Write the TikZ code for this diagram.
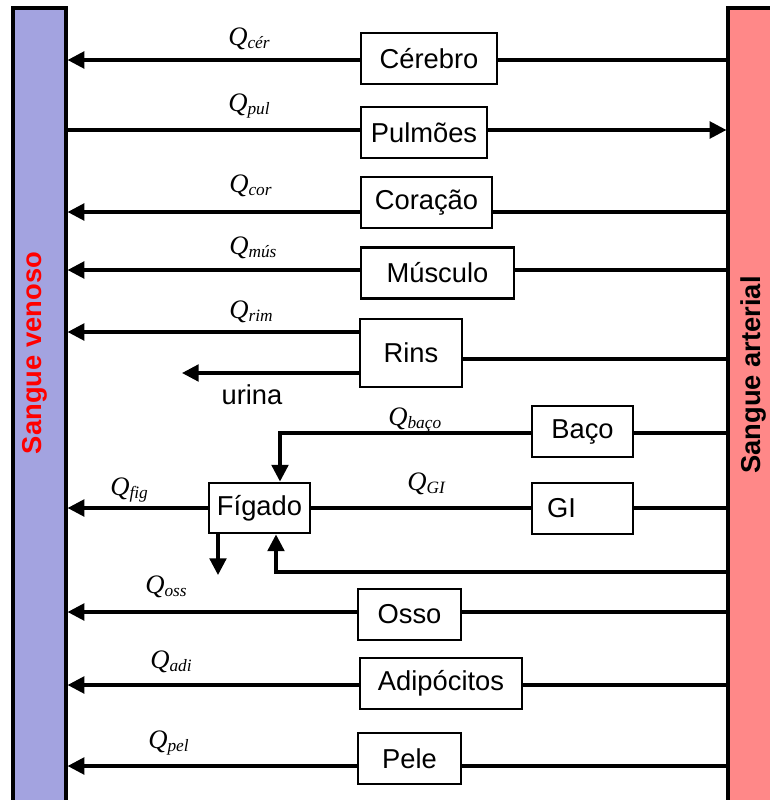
\documentclass[tikz,border=0pt]{standalone}
\usepackage{fontspec}
\setmainfont{Liberation Sans}
\newfontfamily\qfont{Liberation Serif}
\usetikzlibrary{arrows.meta}
\definecolor{venoso}{RGB}{163,163,224}
\definecolor{arterial}{RGB}{255,136,136}
\newcommand{\qlab}[1]{{\qfont\itshape\fontsize{20}{20}\selectfont Q}\raisebox{-2.5pt}{\qfont\itshape\fontsize{13}{13}\selectfont #1}}
\begin{document}
\begin{tikzpicture}[x=0.75pt,y=-0.75pt,
  box/.style={draw, line width=2.2pt, rectangle, inner sep=0pt, minimum height=38.25pt, font=\fontsize{20.5}{22}\selectfont},
  bar/.style={draw, line width=2.4pt, rectangle, inner sep=0pt},
  flow/.style={line width=2.4pt},
  arr/.style={line width=2.4pt, -{Triangle[length=12.5pt,width=12.5pt]}},
  qtxt/.style={anchor=base west, inner sep=0pt}]
\useasboundingbox (0,0) rectangle (770,800);
\clip (0,0) rectangle (770,800);
% bars
\node[bar, fill=venoso, minimum width=39.75pt, minimum height=616.5pt] (ven) at (39.5,419) {};
\node[bar, fill=arterial, minimum width=39pt, minimum height=616.5pt] (art) at (754,419) {};
\node[rotate=90, text=red, font=\bfseries\fontsize{20.5}{22}\selectfont, inner sep=0pt] (tven) at (35,353) {Sangue venoso};
\node[rotate=90, font=\bfseries\fontsize{20.5}{22}\selectfont, inner sep=0pt] (tart) at (753,375) {Sangue arterial};
% boxes
\node[box, minimum width=102pt] (cer) at (429,58.5) {Cérebro};
\node[box, minimum width=94.5pt] (pul) at (424,132.5) {Pulmões};
\node[box, minimum width=98.25pt] (cor) at (426.5,202.5) {Coração};
\node[box, minimum width=114.75pt] (mus) at (437.5,273) {Músculo};
\node[box, minimum width=76.5pt, minimum height=51pt] (rins) at (411,353) {Rins};
\node[box, minimum width=75.75pt] (baco) at (582.5,431.5) {Baço};
\node[box, text width=53.25pt, inner xsep=11.25pt, align=left] (gi) at (582.5,508.5) {GI};
\node[box, minimum width=75.75pt, minimum height=37.5pt] (fig) at (259.5,508) {Fígado};
\node[box, minimum width=77.25pt] (oss) at (409.5,614.5) {Osso};
\node[box, minimum width=121.5pt] (adi) at (441,683.5) {Adipócitos};
\node[box, minimum width=77.25pt] (pele) at (409.5,758.5) {Pele};
\node[font=\fontsize{20.5}{22}\selectfont, inner sep=0pt] (urina) at (252,395) {urina};
% coordinates
\coordinate (urtip) at (182,373);
\coordinate (bacoturn) at (280,433);
\coordinate (figout) at (218,575);
\coordinate (retturn) at (276,572);
% connectors
\draw[flow] (art.west|-0,60) -- (cer.east|-0,60);
\draw[arr] (cer.west|-0,60) -- (ven.east|-0,60);
\draw[flow] (ven.east|-0,130) -- (pul.west|-0,130);
\draw[arr] (pul.east|-0,130) -- (art.west|-0,130);
\draw[flow] (art.west|-0,212) -- (cor.east|-0,212);
\draw[arr] (cor.west|-0,212) -- (ven.east|-0,212);
\draw[flow] (art.west|-0,270) -- (mus.east|-0,270);
\draw[arr] (mus.west|-0,270) -- (ven.east|-0,270);
\draw[flow] (art.west|-0,359) -- (rins.east|-0,359);
\draw[arr] (rins.west|-0,332) -- (ven.east|-0,332);
\draw[arr] (rins.west|-0,373) -- (urtip);
\draw[flow] (art.west|-0,433) -- (baco.east|-0,433);
\draw[arr] (baco.west|-0,433) -- (bacoturn) -- (fig.north-|bacoturn);
\draw[flow] (art.west|-0,508) -- (gi.east|-0,508);
\draw[flow] (gi.west|-0,508) -- (fig.east|-0,508);
\draw[arr] (fig.west|-0,508) -- (ven.east|-0,508);
\draw[arr] (fig.south-|figout) -- (figout);
\draw[arr] (art.west|-0,572) -- (retturn) -- (fig.south-|retturn);
\draw[flow] (art.west|-0,612) -- (oss.east|-0,612);
\draw[arr] (oss.west|-0,612) -- (ven.east|-0,612);
\draw[flow] (art.west|-0,685) -- (adi.east|-0,685);
\draw[arr] (adi.west|-0,685) -- (ven.east|-0,685);
\draw[flow] (art.west|-0,766) -- (pele.east|-0,766);
\draw[arr] (pele.west|-0,766) -- (ven.east|-0,766);
% flow labels
\node[qtxt] (qcer) at (228,45) {\qlab{cér}};
\node[qtxt] (qpul) at (228,111) {\qlab{pul}};
\node[qtxt] (qcor) at (229,192) {\qlab{cor}};
\node[qtxt] (qmus) at (229,254) {\qlab{mús}};
\node[qtxt] (qrim) at (229,318) {\qlab{rim}};
\node[qtxt] (qbaco) at (388,425) {\qlab{baço}};
\node[qtxt] (qgi) at (407,490) {\qlab{GI}};
\node[qtxt] (qfig) at (110,495) {\qlab{fig}};
\node[qtxt] (qoss) at (145,593) {\qlab{oss}};
\node[qtxt] (qadi) at (150,668) {\qlab{adi}};
\node[qtxt] (qpel) at (148,748) {\qlab{pel}};
\end{tikzpicture}
\end{document}
